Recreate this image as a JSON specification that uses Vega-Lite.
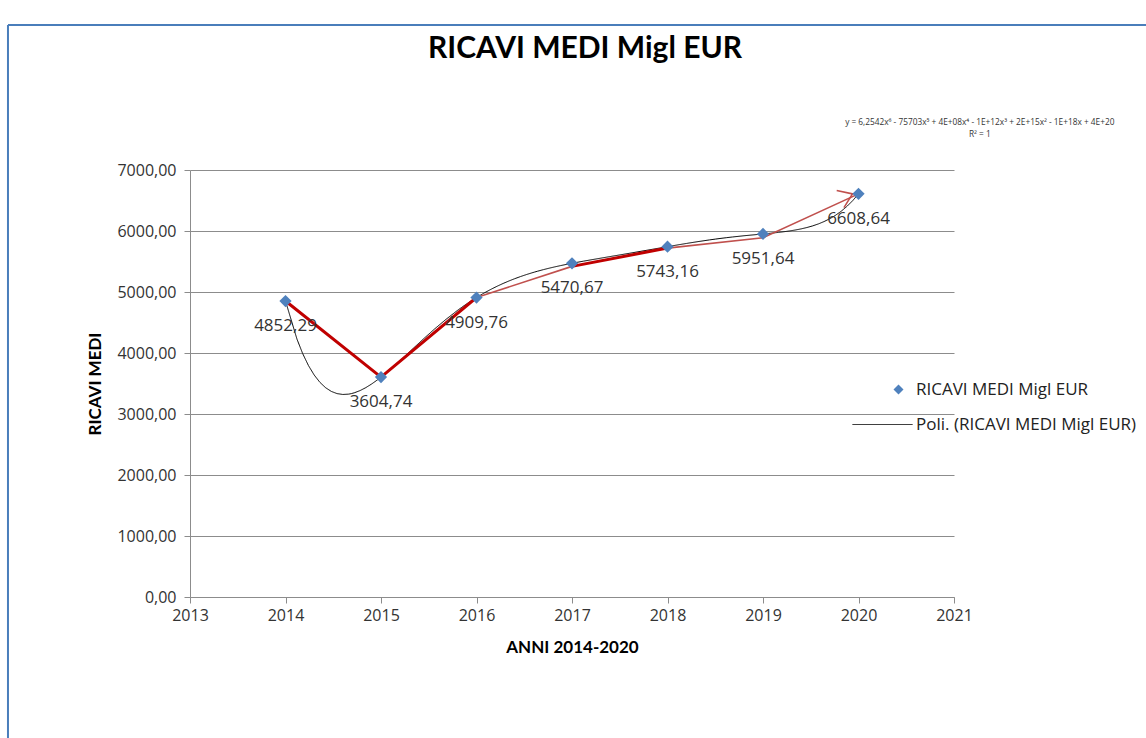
{
  "$schema": "https://vega.github.io/schema/vega-lite/v6.json",
  "width": 764,
  "height": 427,
  "autosize": "none",
  "padding": {"left": 190, "top": 170, "right": 192, "bottom": 141},
  "background": "white",
  "title": {"text": "RICAVI MEDI Migl EUR", "font": "Lato", "fontSize": 30, "fontWeight": "bold", "color": "#000000", "anchor": "middle", "frame": "group", "offset": 0, "baseline": "alphabetic", "dx": 13, "dy": 64},
  "datasets": {
    "ricavi": [
      {"anno": 2014, "valore": 4852.29},
      {"anno": 2015, "valore": 3604.74},
      {"anno": 2016, "valore": 4909.76},
      {"anno": 2017, "valore": 5470.67},
      {"anno": 2018, "valore": 5743.16},
      {"anno": 2019, "valore": 5951.64},
      {"anno": 2020, "valore": 6608.64}
    ],
    "frecce": [
      {"seg": "a", "tipo": "spesso", "anno": 2014, "valore": 4852.29},
      {"seg": "a", "tipo": "spesso", "anno": 2015, "valore": 3604.74},
      {"seg": "a", "tipo": "spesso", "anno": 2016, "valore": 4909.76},
      {"seg": "b", "tipo": "sottile", "anno": 2016, "valore": 4909.76},
      {"seg": "b", "tipo": "sottile", "anno": 2017, "valore": 5420},
      {"seg": "c", "tipo": "spesso", "anno": 2017, "valore": 5420},
      {"seg": "c", "tipo": "spesso", "anno": 2018, "valore": 5720},
      {"seg": "d", "tipo": "sottile", "anno": 2018, "valore": 5720},
      {"seg": "d", "tipo": "sottile", "anno": 2019, "valore": 5890},
      {"seg": "d", "tipo": "sottile", "anno": 2020, "valore": 6608.64}
    ],
    "cornice": [{"parte": "bordo"}]
  },
  "config": {
    "locale": {"number": {"decimal": ",", "thousands": ".", "grouping": [3], "currency": ["€", ""]}},
    "view": {"stroke": null}
  },
  "layer": [
    {
      "data": {"name": "cornice"},
      "mark": {"type": "rule", "color": "#4a7ebb", "strokeWidth": 2, "clip": false},
      "encoding": {
        "x": {"datum": 2011.094, "type": "quantitative", "scale": {"domain": [2013, 2021], "nice": false, "zero": false}},
        "y": {"datum": 9377, "type": "quantitative", "scale": {"domain": [0, 7000], "nice": false}},
        "y2": {"datum": -3000}
      }
    },
    {
      "data": {"name": "cornice"},
      "mark": {"type": "rule", "color": "#4a7ebb", "strokeWidth": 2, "clip": false},
      "encoding": {
        "x": {"datum": 2011.094, "type": "quantitative", "scale": {"domain": [2013, 2021], "nice": false, "zero": false}},
        "x2": {"datum": 2025},
        "y": {"datum": 9377, "type": "quantitative", "scale": {"domain": [0, 7000], "nice": false}}
      }
    },
    {
      "data": {"name": "ricavi"},
      "transform": [{"regression": "valore", "on": "anno", "method": "poly", "order": 6, "extent": [2014, 2020]}],
      "mark": {"type": "line", "color": "#000000", "strokeWidth": 1},
      "encoding": {
        "x": {"field": "anno", "type": "quantitative", "title": "ANNI 2014-2020", "scale": {"domain": [2013, 2021], "nice": false, "zero": false}},
        "y": {"field": "valore", "type": "quantitative", "title": "RICAVI MEDI", "scale": {"domain": [0, 7000], "nice": false}},
        "strokeDash": {
          "datum": "Poli. (RICAVI MEDI Migl EUR)",
          "scale": {"range": [[1, 0]]},
          "legend": {"orient": "none", "legendX": 662, "legendY": 224, "title": null, "padding": 0, "symbolType": "stroke", "symbolSize": 3600, "symbolStrokeColor": "#000000", "symbolStrokeWidth": 1, "labelFont": "Open Sans", "labelFontSize": 17, "labelColor": "#222222", "labelOffset": 3, "labelLimit": 400}
        }
      }
    },
    {
      "data": {"name": "frecce"},
      "mark": {"type": "line"},
      "encoding": {
        "x": {"field": "anno", "type": "quantitative", "title": "ANNI 2014-2020", "scale": {"domain": [2013, 2021], "nice": false, "zero": false}},
        "y": {"field": "valore", "type": "quantitative", "title": "RICAVI MEDI", "scale": {"domain": [0, 7000], "nice": false}},
        "detail": {"field": "seg"},
        "color": {"field": "tipo", "type": "nominal", "scale": {"domain": ["spesso", "sottile"], "range": ["#c00000", "#c0504d"]}, "legend": null},
        "strokeWidth": {"field": "tipo", "type": "ordinal", "scale": {"domain": ["spesso", "sottile"], "range": [3, 1.6]}, "legend": null}
      }
    },
    {
      "data": {"name": "ricavi"},
      "transform": [{"filter": "datum.anno == 2020"}],
      "mark": {"type": "point", "shape": "M-1,-0.7L0,0L-1,0.7", "filled": false, "color": "#c0504d", "strokeWidth": 1.6, "size": 700, "angle": 337, "xOffset": -6, "opacity": 1},
      "encoding": {
        "x": {"field": "anno", "type": "quantitative", "title": "ANNI 2014-2020", "scale": {"domain": [2013, 2021], "nice": false, "zero": false}},
        "y": {"field": "valore", "type": "quantitative", "title": "RICAVI MEDI", "scale": {"domain": [0, 7000], "nice": false}}
      }
    },
    {
      "data": {"name": "ricavi"},
      "mark": {"type": "point", "filled": true, "color": "#4f81bd", "size": 150, "opacity": 1},
      "encoding": {
        "x": {
          "field": "anno", "type": "quantitative", "title": "ANNI 2014-2020",
          "scale": {"domain": [2013, 2021], "nice": false, "zero": false},
          "axis": {
            "titleFont": "Lato", "titleFontSize": 17, "titleFontWeight": "bold", "titleColor": "#000000", "titlePadding": 16,
            "values": [2013, 2014, 2015, 2016, 2017, 2018, 2019, 2020, 2021], "format": "d", "labelFlush": false,
            "labelFont": "Open Sans", "labelFontSize": 16, "labelColor": "#333333", "labelPadding": 4,
            "tickSize": 6, "tickColor": "#8c8c8c", "domainColor": "#8c8c8c", "grid": false
          }
        },
        "y": {
          "field": "valore", "type": "quantitative", "title": "RICAVI MEDI",
          "scale": {"domain": [0, 7000], "nice": false},
          "axis": {
            "titleFont": "Lato", "titleFontSize": 17, "titleFontWeight": "bold", "titleColor": "#000000", "titlePadding": 12,
            "values": [0, 1000, 2000, 3000, 4000, 5000, 6000, 7000], "format": ".2f", "labelFlush": false,
            "labelFont": "Open Sans", "labelFontSize": 16, "labelColor": "#333333", "labelPadding": 8,
            "tickSize": 6, "tickColor": "#8c8c8c", "domainColor": "#8c8c8c",
            "grid": true, "gridColor": "#8c8c8c", "gridWidth": 1
          }
        },
        "shape": {
          "datum": "RICAVI MEDI Migl EUR",
          "scale": {"range": ["diamond"]},
          "legend": {"orient": "none", "legendX": 700, "legendY": 211, "title": null, "padding": 0, "symbolSize": 100, "symbolFillColor": "#4f81bd", "symbolStrokeWidth": 0, "labelFont": "Open Sans", "labelFontSize": 17, "labelColor": "#222222", "labelOffset": 9, "labelLimit": 400}
        }
      }
    },
    {
      "data": {"name": "ricavi"},
      "mark": {"type": "text", "dy": 25, "font": "Open Sans", "fontSize": 17, "color": "#333333", "baseline": "middle", "align": "center"},
      "encoding": {
        "x": {"field": "anno", "type": "quantitative", "title": "ANNI 2014-2020", "scale": {"domain": [2013, 2021], "nice": false, "zero": false}},
        "y": {"field": "valore", "type": "quantitative", "title": "RICAVI MEDI", "scale": {"domain": [0, 7000], "nice": false}},
        "text": {"field": "valore", "type": "quantitative", "format": ".2f"}
      }
    },
    {
      "data": {"name": "cornice"},
      "mark": {"type": "text", "font": "Open Sans", "fontSize": 8.3, "lineHeight": 12, "color": "#333333", "align": "center", "baseline": "middle", "clip": false},
      "encoding": {
        "x": {"datum": 2021.27, "type": "quantitative", "scale": {"domain": [2013, 2021], "nice": false, "zero": false}},
        "y": {"datum": 7770, "type": "quantitative", "scale": {"domain": [0, 7000], "nice": false}},
        "text": {"value": ["y = 6,2542x⁶ - 75703x⁵ + 4E+08x⁴ - 1E+12x³ + 2E+15x² - 1E+18x + 4E+20", "R² = 1"]}
      }
    }
  ]
}
